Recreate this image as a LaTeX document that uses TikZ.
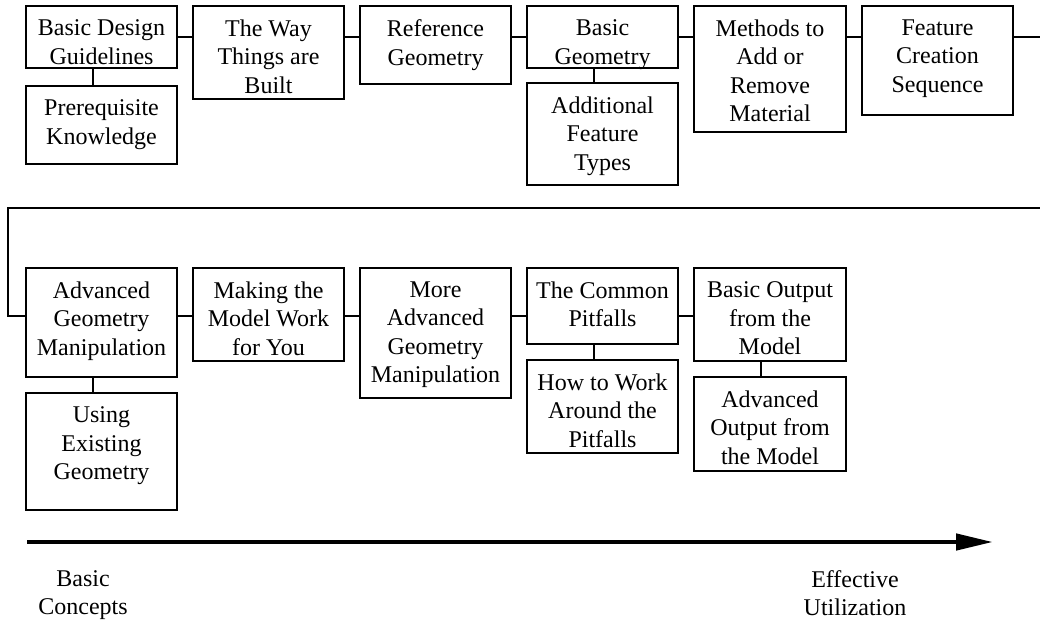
\documentclass[tikz,border=0pt]{standalone}
\usepackage{fontspec}
\setmainfont{Liberation Serif}
\usetikzlibrary{arrows.meta}
\tikzset{
  box/.style={draw, line width=1.8pt, inner sep=0pt, outer sep=0pt},
  txt/.style={font=\fontsize{24}{28.5}\selectfont, align=center, inner sep=0pt, anchor=north},
  conn/.style={line width=1.8pt},
  bigarrow/.style={line width=4.5pt, -{Triangle[length=37pt,width=16pt]}}
}
\newcommand\mkbox[6]{%
  \node[box, minimum width={(#4-#2)*1pt}, minimum height={(#5-#3)*1pt}] (#1) at ({(#2+#4)/2},{(#3+#5)/2}) {};
  \node[txt] (#1t) at ([yshift=-13.5pt]#1.north) {#6};
}
\begin{document}
\begin{tikzpicture}[x=1pt,y=-1pt]
\useasboundingbox (0,0) rectangle (1040,624);
\clip (0,0) rectangle (1040,624);
% top row
\mkbox{b1}{26}{6}{177}{68}{Basic Design\\Guidelines}
\mkbox{b1s}{26}{86}{177}{164}{Prerequisite\\Knowledge}
\mkbox{b2}{193}{6}{344}{99}{The Way\\Things are\\Built}
\mkbox{b3}{360}{6}{511}{84}{Reference\\Geometry}
\mkbox{b4}{527}{6}{678}{68}{Basic\\Geometry}
\mkbox{b4s}{527}{83}{678}{185}{Additional\\Feature\\Types}
\mkbox{b5}{694}{6}{846}{132}{Methods to\\Add or\\Remove\\Material}
\mkbox{b6}{862}{6}{1013}{115}{Feature\\Creation\\Sequence}
% bottom row
\mkbox{b7}{26}{268}{177}{377}{Advanced\\Geometry\\Manipulation}
\mkbox{b7s}{26}{393}{177}{510}{Using\\Existing\\Geometry}
\mkbox{b8}{193}{268}{344}{361}{Making the\\Model Work\\for You}
\mkbox{b9}{360}{268}{511}{398}{More\\Advanced\\Geometry\\Manipulation}
\mkbox{b10}{527}{268}{678}{344}{The Common\\Pitfalls}
\mkbox{b10s}{527}{360}{678}{453}{How to Work\\Around the\\Pitfalls}
\mkbox{b11}{694}{268}{846}{361}{Basic Output\\from the\\Model}
\mkbox{b11s}{694}{377}{846}{471}{Advanced\\Output from\\the Model}
% row coordinates
\coordinate (r1) at (0,37);
\coordinate (r2) at (0,316);
\coordinate (tA) at (1052,37);
\coordinate (tB) at (1052,208);
\coordinate (tC) at (8,208);
\coordinate (tD) at (8,316);
% top row connectors
\draw[conn] (b1.east |- r1) -- (b2.west |- r1);
\draw[conn] (b2.east |- r1) -- (b3.west |- r1);
\draw[conn] (b3.east |- r1) -- (b4.west |- r1);
\draw[conn] (b4.east |- r1) -- (b5.west |- r1);
\draw[conn] (b5.east |- r1) -- (b6.west |- r1);
\draw[conn] (b6.east |- r1) -- (tA) -- (tB) -- (tC) -- (tD) -- (b7.west |- r2);
% bottom row connectors
\draw[conn] (b7.east |- r2) -- (b8.west |- r2);
\draw[conn] (b8.east |- r2) -- (b9.west |- r2);
\draw[conn] (b9.east |- r2) -- (b10.west |- r2);
\draw[conn] (b10.east |- r2) -- (b11.west |- r2);
% vertical connectors
\draw[conn] ([xshift=-8.5pt]b1.south) -- ([xshift=-8.5pt]b1s.north);
\draw[conn] ([xshift=-8.5pt]b4.south) -- ([xshift=-8.5pt]b4s.north);
\draw[conn] ([xshift=-8.5pt]b7.south) -- ([xshift=-8.5pt]b7s.north);
\draw[conn] ([xshift=-8.5pt]b10.south) -- ([xshift=-8.5pt]b10s.north);
\draw[conn] ([xshift=-9pt]b11.south) -- ([xshift=-9pt]b11s.north);
% progress arrow
\coordinate (aS) at (27,542);
\coordinate (aE) at (993,542);
\draw[bigarrow] (aS) -- (aE);
\node[txt] (lblA) at (83,570) {Basic\\Concepts};
\node[txt] (lblB) at (855,570) {Effective\\Utilization};
\end{tikzpicture}
\end{document}
